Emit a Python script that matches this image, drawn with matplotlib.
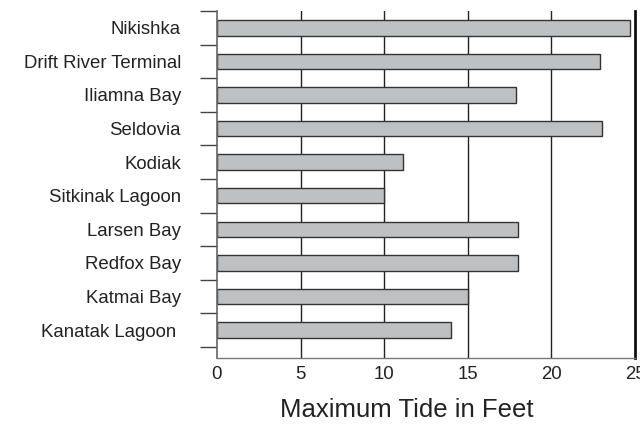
import matplotlib.pyplot as plt
import numpy as np

plt.rcParams['font.family'] = ['Liberation Sans', 'DejaVu Sans']

# data, top to bottom as in the chart
stations = ["Nikishka", "Drift River Terminal", "Iliamna Bay", "Seldovia", "Kodiak",
            "Sitkinak Lagoon", "Larsen Bay", "Redfox Bay", "Katmai Bay", "Kanatak Lagoon "]
max_tide = [24.7, 22.9, 17.9, 23.0, 11.1, 10.0, 18.0, 18.0, 15.0, 14.0]
x_ticks = [0, 5, 10, 15, 20, 25]


def main():
    fig = plt.figure(figsize=(6.4, 4.25), dpi=100)
    ax = fig.add_axes([217 / 640, 1 - 358 / 425, 418 / 640, 347 / 425])

    n = len(stations)
    pos = np.arange(n)[::-1]

    # vertical grid lines behind the bars
    for xv in x_ticks[1:-1]:
        ax.axvline(xv, color='#222222', lw=1.0, zorder=0)

    ax.barh(pos, max_tide, height=0.46, left=0, color='#bfc0c1',
            edgecolor='#333333', linewidth=1.0, zorder=2)

    ax.set_xlim(0, 25)
    ax.set_ylim(-0.83, n - 0.5)

    ax.set_yticks(pos)
    ax.set_yticklabels(stations, fontsize=13.4, color='#222222')
    ax.set_yticks(np.arange(-0.5, n, 1.0), minor=True)
    ax.tick_params(axis='y', which='major', length=0, pad=26)
    ax.tick_params(axis='y', which='minor', length=12, width=1.0,
                   color='#444444', direction='out')

    ax.set_xticks(x_ticks)
    ax.set_xticklabels([str(v) for v in x_ticks], fontsize=13.4, color='#222222')
    ax.tick_params(axis='x', length=0, pad=6)

    ax.spines['top'].set_visible(False)
    ax.spines['left'].set_color('#666666')
    ax.spines['left'].set_linewidth(1.2)
    ax.spines['bottom'].set_color('#777777')
    ax.spines['bottom'].set_linewidth(1.0)
    ax.spines['right'].set_color('#111111')
    ax.spines['right'].set_linewidth(2.0)

    ax.set_xlabel("Maximum Tide in Feet", fontsize=18.5, color='#222222')
    ax.xaxis.set_label_coords(0.455, -0.115)

    fig.savefig("out.png", dpi=100)


if __name__ == '__main__':
    main()
